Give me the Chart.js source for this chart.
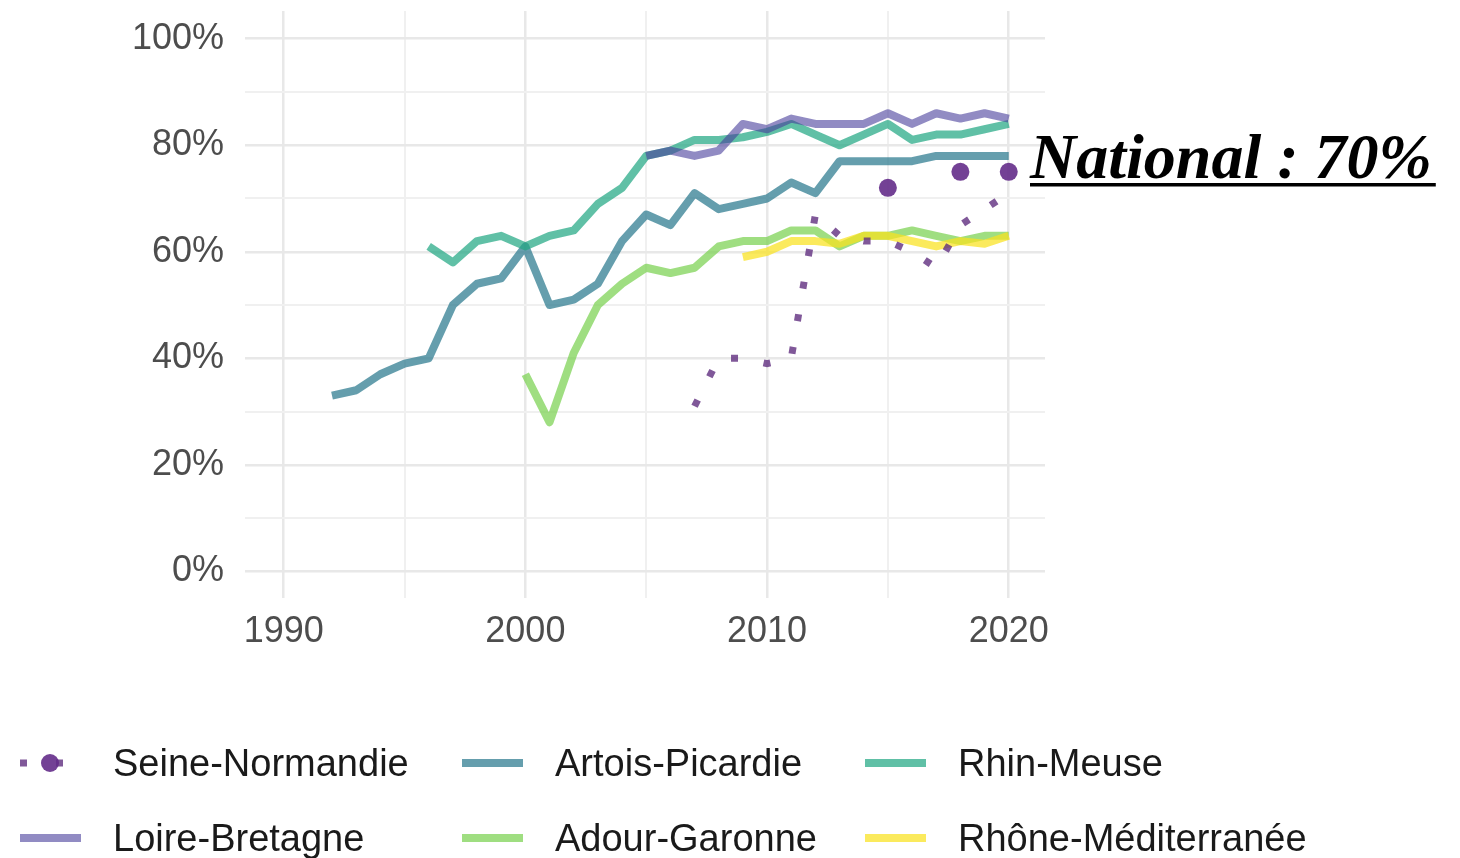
<!DOCTYPE html>
<html>
<head>
<meta charset="utf-8">
<script src="https://cdn.jsdelivr.net/npm/chart.js@4/dist/chart.umd.min.js"></script>
<style>
  html, body { margin: 0; padding: 0; background: #fff; }
  #wrap { width: 1460px; height: 858px; position: relative; }
</style>
</head>
<body>
<div id="wrap"><canvas id="chart"></canvas></div>
<script>
// series data (percent)
var seineYears = [2007, 2008, 2009, 2010, 2011, 2012, 2013, 2014, 2015, 2016, 2017, 2018, 2019, 2020];
var seineValues = [31, 40, 40, 39, 40, 67, 63, 62, 62, 60, 57, 65, 68, 71];
var seinePointYears = [2015, 2018, 2020];
var seinePointValues = [72, 75, 75];

var artoisYears = [1992, 1993, 1994, 1995, 1996, 1997, 1998, 1999, 2000, 2001, 2002, 2003, 2004, 2005, 2006,
  2007, 2008, 2009, 2010, 2011, 2012, 2013, 2014, 2015, 2016, 2017, 2018, 2019, 2020];
var artoisValues = [33, 34, 37, 39, 40, 50, 54, 55, 61, 50, 51, 54, 62, 67, 65,
  71, 68, 69, 70, 73, 71, 77, 77, 77, 77, 78, 78, 78, 78];

var rhinYears = [1996, 1997, 1998, 1999, 2000, 2001, 2002, 2003, 2004, 2005, 2006, 2007, 2008,
  2009, 2010, 2011, 2012, 2013, 2014, 2015, 2016, 2017, 2018, 2019, 2020];
var rhinValues = [61, 58, 62, 63, 61, 63, 64, 69, 72, 78, 79, 81, 81,
  81.5, 82.5, 84, 82, 80, 82, 84, 81, 82, 82, 83, 84];

var loireYears = [2005, 2006, 2007, 2008, 2009, 2010, 2011, 2012, 2013, 2014, 2015, 2016, 2017, 2018, 2019, 2020];
var loireValues = [78, 79, 78, 79, 84, 83, 85, 84, 84, 84, 86, 84, 86, 85, 86, 85];

var adourYears = [2000, 2001, 2002, 2003, 2004, 2005, 2006, 2007, 2008, 2009, 2010, 2011, 2012, 2013, 2014,
  2015, 2016, 2017, 2018, 2019, 2020];
var adourValues = [37, 28, 41, 50, 54, 57, 56, 57, 61, 62, 62, 64, 64, 61, 63,
  63, 64, 63, 62, 63, 63];

var rhoneYears = [2009, 2010, 2011, 2012, 2013, 2014, 2015, 2016, 2017, 2018, 2019, 2020];
var rhoneValues = [59, 60, 62, 62, 61.5, 63, 63, 62, 61, 62, 61.5, 63];

var yTicks = [0, 10, 20, 30, 40, 50, 60, 70, 80, 90, 100];
var xTicks = [1990, 1995, 2000, 2005, 2010, 2015, 2020];
var nationalLabel = "National : 70%";

function pts(xs, ys) {
  return xs.map(function(x, i) { return { x: x, y: ys[i] }; });
}

var colors = {
  seine: "rgba(96, 46, 128, 0.8)",
  seinePt: "rgba(100, 44, 138, 0.9)",
  artois: "rgba(42, 120, 142, 0.72)",
  rhin: "rgba(34, 168, 132, 0.72)",
  loire: "rgba(72, 62, 155, 0.6)",
  adour: "rgba(122, 209, 81, 0.72)",
  rhone: "rgba(250, 226, 30, 0.72)"
};

function lineSet(label, data, color) {
  return {
    type: "line",
    label: label,
    data: data,
    borderColor: color,
    backgroundColor: color,
    borderWidth: 8,
    pointRadius: 0,
    tension: 0,
    borderJoinStyle: "round",
    borderCapStyle: "butt",
    fill: false
  };
}

var legendItems = [
  { label: "Seine-Normandie", color: colors.seine, kind: "dots" },
  { label: "Artois-Picardie", color: colors.artois },
  { label: "Rhin-Meuse", color: colors.rhin },
  { label: "Loire-Bretagne", color: colors.loire },
  { label: "Adour-Garonne", color: colors.adour },
  { label: "Rhône-Méditerranée", color: colors.rhone }
];

// grid legend + national note
var extras = {
  id: "extras",
  afterDraw: function(chart) {
    var ctx = chart.ctx;
    var iconX = [20, 462, 865];
    var textX = [113, 555, 958];
    var rowY = [763, 838];
    ctx.save();
    legendItems.forEach(function(it, i) {
      var c = i % 3, r = Math.floor(i / 3);
      var x = iconX[c], y = rowY[r];
      if (it.kind === "dots") {
        ctx.strokeStyle = it.color;
        ctx.lineWidth = 7;
        ctx.setLineDash([7, 29]);
        ctx.beginPath();
        ctx.moveTo(x, y);
        ctx.lineTo(x + 62, y);
        ctx.stroke();
        ctx.setLineDash([]);
        ctx.fillStyle = colors.seinePt;
        ctx.beginPath();
        ctx.arc(x + 30, y, 9, 0, Math.PI * 2);
        ctx.fill();
      } else {
        ctx.strokeStyle = it.color;
        ctx.lineWidth = 8;
        ctx.beginPath();
        ctx.moveTo(x, y);
        ctx.lineTo(x + 61, y);
        ctx.stroke();
      }
      ctx.fillStyle = "#1a1a1a";
      ctx.font = '38px "Liberation Sans", Arial, sans-serif';
      ctx.textBaseline = "middle";
      ctx.textAlign = "left";
      ctx.fillText(it.label, textX[c], y + 3);
    });

    ctx.font = 'italic bold 64px "Liberation Serif", "Times New Roman", serif';
    ctx.fillStyle = "#000";
    ctx.textBaseline = "alphabetic";
    ctx.fillText(nationalLabel, 1030, 178);
    var w = ctx.measureText(nationalLabel).width;
    ctx.fillRect(1030, 183, w + 4, 3.5);
    ctx.restore();
  }
};

var ctx = document.getElementById("chart").getContext("2d");
var chart = new Chart(ctx, {
  data: {
    datasets: [
      {
        type: "scatter",
        label: "Seine-Normandie points",
        data: pts(seinePointYears, seinePointValues),
        backgroundColor: colors.seinePt,
        borderWidth: 0,
        pointRadius: 9,
        pointHoverRadius: 9
      },
      Object.assign(lineSet("Seine-Normandie", pts(seineYears, seineValues), colors.seine),
        { borderWidth: 7, borderDash: [7, 26], borderJoinStyle: "miter" }),
      lineSet("Rhône-Méditerranée", pts(rhoneYears, rhoneValues), colors.rhone),
      lineSet("Adour-Garonne", pts(adourYears, adourValues), colors.adour),
      lineSet("Loire-Bretagne", pts(loireYears, loireValues), colors.loire),
      lineSet("Rhin-Meuse", pts(rhinYears, rhinValues), colors.rhin),
      lineSet("Artois-Picardie", pts(artoisYears, artoisValues), colors.artois)
    ]
  },
  options: {
    responsive: true,
    maintainAspectRatio: false,
    animation: false,
    layout: { padding: { left: 0, top: 11, right: 415, bottom: 200 } },
    plugins: {
      legend: { display: false },
      tooltip: { enabled: false }
    },
    scales: {
      x: {
        type: "linear",
        min: 1988.4,
        max: 2021.5,
        afterBuildTicks: function(scale) {
          scale.ticks = xTicks.map(function(v) { return { value: v }; });
        },
        afterFit: function(scale) {
          scale.height = 60;
          scale.paddingLeft = 0;
          scale.paddingRight = 0;
        },
        border: { display: false },
        grid: {
          drawTicks: false,
          color: function(c) { return c.tick && c.tick.value % 10 === 0 ? "#e8e8e8" : "#f0f0f0"; },
          lineWidth: function(c) { return c.tick && c.tick.value % 10 === 0 ? 2.5 : 2; }
        },
        ticks: {
          padding: 12,
          color: "#4d4d4d",
          font: { family: '"Liberation Sans", Arial, sans-serif', size: 36 },
          maxRotation: 0,
          callback: function(v) { return v % 10 === 0 ? String(v) : ""; }
        }
      },
      y: {
        min: -5,
        max: 105.2,
        afterBuildTicks: function(scale) {
          scale.ticks = yTicks.map(function(v) { return { value: v }; });
        },
        afterFit: function(scale) {
          scale.width = 245;
          scale.paddingTop = 0;
          scale.paddingBottom = 0;
        },
        border: { display: false },
        grid: {
          drawTicks: false,
          color: function(c) { return c.tick && c.tick.value % 20 === 0 ? "#e8e8e8" : "#f0f0f0"; },
          lineWidth: function(c) { return c.tick && c.tick.value % 20 === 0 ? 2.5 : 2; }
        },
        ticks: {
          padding: 21,
          color: "#4d4d4d",
          font: { family: '"Liberation Sans", Arial, sans-serif', size: 36 },
          callback: function(v) { return v % 20 === 0 ? v + "%" : ""; }
        }
      }
    }
  },
  plugins: [extras]
});
</script>
</body>
</html>
